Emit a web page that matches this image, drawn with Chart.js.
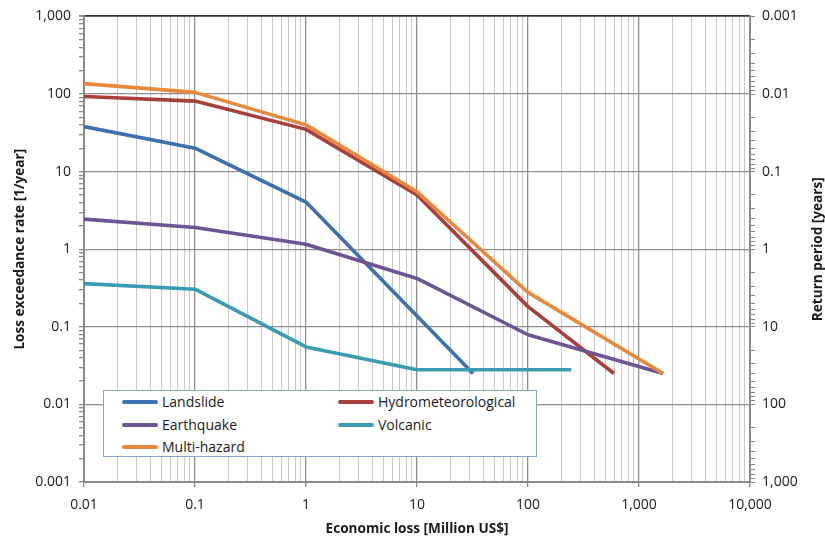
<!DOCTYPE html>
<html lang="en">
<head>
  <meta charset="UTF-8">
  <title>Loss exceedance curves</title>
  <script src="https://cdn.jsdelivr.net/npm/chart.js"></script>
  <style>
    body { margin: 0; background: #fff; font-family: "Open Sans", sans-serif; }
    #wrap { position: relative; width: 825px; height: 538px; }
    #legend { position: absolute; left: 103px; top: 390px; width: 432px; height: 65px;
              background: #fff; border: 1px solid #86a6d4; }
    #legend .item { position: absolute; font-size: 14px; color: #1a1a1a; line-height: 16px; white-space: nowrap; }
    #legend .swatch { display: inline-block; width: 36px; height: 4px; border-radius: 2px;
                      vertical-align: middle; margin-right: 4px; position: relative; top: -1px; }
  </style>
</head>
<body>

<div id="wrap">
  <canvas id="chart" width="825" height="538"></canvas>
  <div id="legend"></div>
</div>

<script>
// series (loss in Million US$, exceedance rate in 1/year)
const landslideX = [0.01, 0.1, 1, 10, 32];
const landslideY = [38, 20, 4.05, 0.138, 0.025];
const hydroX = [0.01, 0.1, 1, 10, 100, 595];
const hydroY = [93, 81, 35, 5.0, 0.182, 0.025];
const quakeX = [0.01, 0.1, 1, 10, 100, 1650];
const quakeY = [2.44, 1.9, 1.16, 0.42, 0.079, 0.025];
const volcanicX = [0.01, 0.1, 1, 10, 245];
const volcanicY = [0.36, 0.305, 0.055, 0.028, 0.028];
const multiX = [0.01, 0.1, 1, 10, 100, 1650];
const multiY = [136, 105, 40, 5.5, 0.278, 0.025];

const seriesNames = ['Landslide', 'Hydrometeorological', 'Earthquake', 'Volcanic', 'Multi-hazard'];
const seriesColors = ['#3e6fae', '#a83f3a', '#6e5494', '#3a9bb2', '#e8883a'];

// axis decades and their labels
const xDecades = [0.01, 0.1, 1, 10, 100, 1000, 10000];
const xTickLabels = ['0.01', '0.1', '1', '10', '100', '1,000', '10,000'];
const yDecades = [0.001, 0.01, 0.1, 1, 10, 100, 1000];
const yTickLabels = ['0.001', '0.01', '0.1', '1', '10', '100', '1,000'];
const y2TickLabels = ['0.001', '0.01', '0.1', '1', '10', '100', '1,000'];

function pts(xs, ys) { return xs.map((x, i) => ({ x: x, y: ys[i] })); }
const seriesData = [pts(landslideX, landslideY), pts(hydroX, hydroY), pts(quakeX, quakeY),
                    pts(volcanicX, volcanicY), pts(multiX, multiY)];

// 1..9 steps inside every decade
function logTicks(decades) {
  const out = [];
  for (let i = 0; i < decades.length - 1; i++)
    for (let m = 1; m < 10; m++) out.push({ value: m * decades[i] });
  out.push({ value: decades[decades.length - 1] });
  return out;
}
function isDecade(v) { const l = Math.log10(v); return Math.abs(l - Math.round(l)) < 1e-9; }
function decadeLabel(v, decades, labels) {
  if (!isDecade(v)) return '';
  const i = decades.findIndex(d => Math.abs(Math.log10(d) - Math.log10(v)) < 1e-9);
  return i < 0 ? '' : labels[i];
}

const tickFont = { family: 'Open Sans', size: 14 };
const titleFont = { family: 'Open Sans', size: 13.6, weight: 'bold' };

// right axis title reads bottom-to-top like the left one
const rightTitle = {
  id: 'rightTitle',
  afterDraw(chart) {
    const c = chart.ctx, a = chart.chartArea;
    c.save();
    c.translate(818, (a.top + a.bottom) / 2);
    c.rotate(-Math.PI / 2);
    c.font = 'bold 13.6px "Open Sans"';
    c.fillStyle = '#1a1a1a';
    c.textAlign = 'center';
    c.textBaseline = 'middle';
    c.fillText('Return period [years]', 0, 0);
    c.restore();
  }
};

const ctx = document.getElementById('chart').getContext('2d');
new Chart(ctx, {
  type: 'line',
  data: {
    datasets: seriesNames.map((name, i) => ({
      label: name,
      data: seriesData[i],
      borderColor: seriesColors[i],
      backgroundColor: seriesColors[i],
      borderWidth: 3.6,
      pointRadius: 0,
      tension: 0,
      fill: false,
      borderCapStyle: 'butt',
      borderJoinStyle: 'round',
      order: seriesNames.length - i
    }))
  },
  options: {
    responsive: false,
    animation: false,
    layout: { padding: { top: 15, left: 0, right: 0, bottom: 0 } },
    plugins: { legend: { display: false }, tooltip: { enabled: false } },
    scales: {
      x: {
        type: 'logarithmic', min: 0.01, max: 10000,
        afterBuildTicks: s => { s.ticks = logTicks(xDecades); },
        afterFit: s => { s.height = 56; },
        ticks: { autoSkip: false, maxRotation: 0, padding: 10, color: '#1a1a1a', font: tickFont,
                 callback: v => decadeLabel(v, xDecades, xTickLabels) },
        grid: {
          color: c => isDecade(c.tick.value) ? '#8f8f8f' : '#c9c9c9',
          tickColor: c => isDecade(c.tick.value) ? '#8a8a8a' : 'rgba(0,0,0,0)',
          lineWidth: c => isDecade(c.tick.value) ? 1.3 : 1,
          tickLength: 5
        },
        border: { color: '#8a8a8a', width: 2 },
        title: { display: true, text: 'Economic loss [Million US$]', color: '#1a1a1a', font: titleFont,
                 padding: { top: 0, bottom: 1 } }
      },
      y: {
        type: 'logarithmic', position: 'left', min: 0.001, max: 1000,
        afterBuildTicks: s => { s.ticks = logTicks(yDecades); },
        afterFit: s => { s.width = 84; },
        ticks: { autoSkip: false, padding: 8, color: '#1a1a1a', font: tickFont,
                 callback: v => decadeLabel(v, yDecades, yTickLabels) },
        grid: {
          color: c => c.tick.value === 1000 ? '#333' : (isDecade(c.tick.value) ? '#8f8f8f' : 'rgba(0,0,0,0)'),
          tickColor: '#8a8a8a',
          lineWidth: c => c.tick.value === 1000 ? 1.8 : 1.3,
          tickLength: 5
        },
        border: { color: '#8a8a8a', width: 2 },
        title: { display: true, text: 'Loss exceedance rate [1/year]', color: '#1a1a1a', font: titleFont,
                 padding: { top: 12, bottom: 0 } }
      },
      y2: {
        type: 'logarithmic', position: 'right', reverse: true, min: 0.001, max: 1000,
        afterBuildTicks: s => { s.ticks = logTicks(yDecades); },
        afterFit: s => { s.width = 75; },
        ticks: { autoSkip: false, padding: 7, color: '#1a1a1a', font: tickFont,
                 callback: v => decadeLabel(v, yDecades, y2TickLabels) },
        grid: { drawOnChartArea: false, tickColor: '#8a8a8a', tickLength: 5 },
        border: { color: '#8a8a8a', width: 2 }
      }
    }
  },
  plugins: [rightTitle]
});

// legend box inside the plot, two columns
const legend = document.getElementById('legend');
seriesNames.forEach((name, i) => {
  const el = document.createElement('div');
  el.className = 'item';
  el.style.left = (18 + (i % 2) * 216) + 'px';
  el.style.top = (3 + Math.floor(i / 2) * 22.5) + 'px';
  el.innerHTML = '<span class="swatch" style="background:' + seriesColors[i] + '"></span>' + name;
  legend.appendChild(el);
});
</script>

</body>
</html>
